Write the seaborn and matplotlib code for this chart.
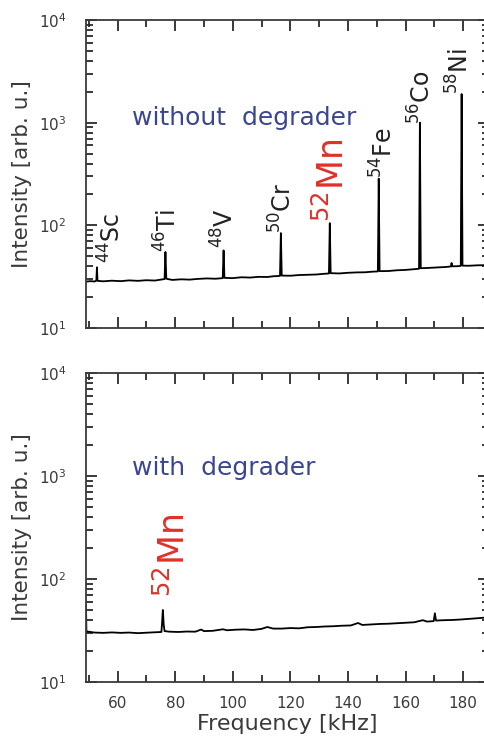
import seaborn as sns
import matplotlib
matplotlib.use("Agg")
import matplotlib.pyplot as plt
from matplotlib.ticker import MultipleLocator, LogLocator
import pandas as pd

# espectro sem degradador (frequencia em kHz, intensidade)
freq_sem = [49.0, 50.5, 52.0, 52.6, 52.8, 53.0, 55, 58, 61, 64, 67, 70, 73,
            76.3, 76.6, 76.9, 79, 82, 85, 88, 91, 94, 96.5, 96.8, 97.1,
            100, 103, 106, 109, 112, 114, 116.4, 116.7, 117.0, 120, 123, 126,
            129, 131, 133.4, 133.7, 134.0, 137, 140, 143, 146, 148, 150.4,
            150.7, 151.0, 154, 157, 160, 163, 164.7, 165.0, 165.3, 168, 171,
            174, 175.8, 176.0, 176.2, 178, 179.2, 179.5, 179.8, 182, 185, 189]
int_sem = [28.3, 28.6, 28.4, 29.0, 39, 28.8, 28.5, 28.9, 28.6, 29.1, 28.8, 29.2, 29.0,
           30.0, 55, 30.2, 29.4, 29.8, 29.6, 30.1, 30.4, 30.2, 30.6, 57, 30.8,
           30.6, 31.2, 31.0, 31.5, 31.4, 31.9, 32.2, 84, 32.4, 32.3, 32.8, 33.0,
           33.2, 33.6, 34.0, 105, 34.2, 34.0, 34.5, 34.8, 34.9, 35.3, 35.6,
           285, 35.8, 35.9, 36.5, 36.8, 37.4, 37.8, 1000, 38.2, 38.5, 38.9,
           39.3, 39.8, 43, 39.9, 40.0, 40.3, 1900, 40.5, 40.4, 40.8, 41.0]

# espectro com degradador
freq_com = [49.0, 49.15, 52, 55, 58, 61, 64, 67, 70, 73, 75.2, 75.4, 75.7, 76.0,
            76.3, 78, 81, 84, 87, 89, 90, 93, 96.6, 98, 101, 104, 107, 110, 112,
            114, 117, 120, 123, 126, 129, 132, 135, 138, 141, 143.5, 145, 148,
            151, 154, 157, 160, 163, 166, 167.5, 169.8, 170.2, 170.6, 173, 176,
            179, 182, 185, 189]
int_com = [56, 31.0, 30.2, 30.0, 30.3, 30.0, 30.2, 29.8, 30.1, 30.4, 30.6, 36.5, 50, 36,
           31.2, 30.8, 30.6, 30.9, 30.8, 32.3, 31.2, 31.4, 32.5, 31.8, 32.2, 32.4, 32.0, 32.8, 34.2,
           33.0, 33.0, 33.4, 33.2, 34.0, 34.2, 34.6, 34.8, 35.2, 35.4, 37.4, 35.8, 36.2,
           36.6, 36.8, 37.2, 37.6, 38.0, 39.8, 38.6, 39.0, 46.5, 39.5, 39.8, 40.0,
           40.4, 41.0, 41.6, 42.5]

# rotulos dos isotopos (massa, elemento, posicao x, base y)
massas = ["44", "46", "48", "50", "52", "54", "56", "58"]
elementos = ["Sc", "Ti", "V", "Cr", "Mn", "Fe", "Co", "Ni"]
rotulo_x = [57.9, 77.6, 97.4, 117.6, 134.9, 152.5, 165.9, 179.0]
rotulo_y = [42.7, 55, 60, 84, 107, 286, 980, 1900]

AZUL = "#3b4690"
VERMELHO = "#e0302a"
CINZA = "#3a3a3a"

sns.set_theme(style="ticks")
plt.rcParams['font.family'] = ['DejaVu Sans']
plt.rcParams['mathtext.fontset'] = 'dejavusans'
plt.rcParams.update({
    "xtick.direction": "in", "ytick.direction": "in",
    "xtick.top": True, "ytick.right": True,
    "xtick.major.size": 8, "ytick.major.size": 8,
    "xtick.minor.size": 5, "ytick.minor.size": 5,
    "xtick.major.width": 1.3, "ytick.major.width": 1.3,
    "xtick.minor.width": 1.3, "ytick.minor.width": 1.3,
    "xtick.color": "#2a2a2a", "ytick.color": "#2a2a2a",
})

fig = plt.figure(figsize=(4.85, 7.47), dpi=100)
ax1 = fig.add_axes([0.1773, 0.5609, 0.8309, 0.4123])
ax2 = fig.add_axes([0.1773, 0.0870, 0.8309, 0.4137])

dados1 = pd.DataFrame({"f": freq_sem, "I": int_sem})
dados2 = pd.DataFrame({"f": freq_com, "I": int_com})
sns.lineplot(data=dados1, x="f", y="I", sort=False, estimator=None, color="black", lw=1.3, ax=ax1)
sns.lineplot(data=dados2, x="f", y="I", sort=False, estimator=None, color="black", lw=1.3, ax=ax2)

for ax in (ax1, ax2):
    ax.set_yscale("log")
    ax.set_ylim(10, 1e4)
    ax.set_xlim(49, 189)
    ax.xaxis.set_major_locator(MultipleLocator(20))
    ax.xaxis.set_minor_locator(MultipleLocator(10))
    ax.yaxis.set_major_locator(LogLocator(base=10))
    ax.yaxis.set_minor_locator(LogLocator(base=10, subs=(2, 3, 4, 5, 6, 7, 8, 9), numticks=20))
    ax.tick_params(axis="y", which="major", labelsize=11, pad=14, labelcolor=CINZA)
    ax.tick_params(axis="x", which="major", labelsize=11, pad=10, labelcolor=CINZA)
    for s in ax.spines.values():
        s.set_color(CINZA)
        s.set_linewidth(1.3)
    ax.set_ylabel("Intensity [arb. u.]", fontsize=15.5, color=CINZA, labelpad=5)
    ax.set_xlabel("")

ax1.tick_params(axis="x", labelbottom=False)
ax2.set_xlabel("Frequency [kHz]", fontsize=16, color=CINZA, labelpad=2)

# rotulos dos picos
for m, el, x, y in zip(massas, elementos, rotulo_x, rotulo_y):
    if el == "Mn":
        ax1.text(x, y, "$^{%s}$Mn" % m, rotation=90, ha="center", va="bottom",
                 fontsize=25, color=VERMELHO)
    else:
        ax1.text(x, y, "$^{%s}$%s" % (m, el), rotation=90, ha="center", va="bottom",
                 fontsize=17, color="#222222")

ax1.text(65.0, 960, "without  degrader", fontsize=18, color=AZUL, ha="left", va="baseline")
ax2.text(65.0, 1020, "with  degrader", fontsize=18, color=AZUL, ha="left", va="baseline")
ax2.text(79.4, 67, "$^{52}$Mn", rotation=90, ha="center", va="bottom", fontsize=25, color=VERMELHO)

fig.savefig("out.png", dpi=100)
